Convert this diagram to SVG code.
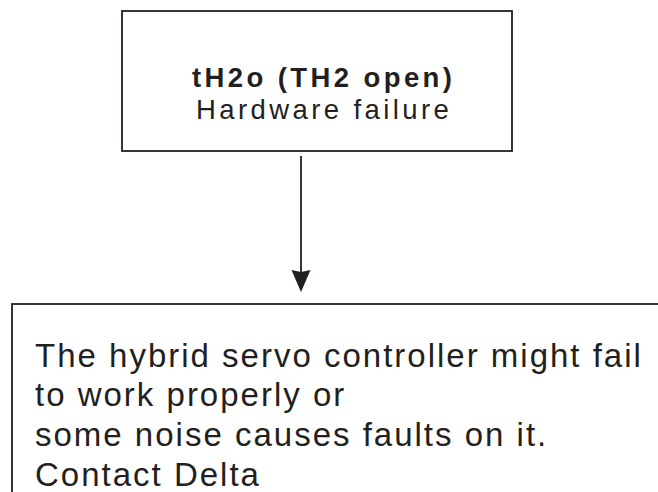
<svg xmlns="http://www.w3.org/2000/svg" width="658" height="492" viewBox="0 0 658 492">
  <style>
    .box { fill: #ffffff; stroke: #231f20; stroke-width: 1.8; }
    .t { font-family: "Liberation Sans", Arial, sans-serif; fill: #231f20; }
    .head { font-size: 27.5px; font-weight: bold; letter-spacing: 3.4px; }
    .sub { font-size: 27.5px; letter-spacing: 3.4px; }
    .body { font-size: 33px; letter-spacing: 2px; }
    .conn { stroke: #231f20; stroke-width: 1.8; fill: none; }
  </style>
  <defs>
    <marker id="arrow" markerUnits="userSpaceOnUse" markerWidth="22" markerHeight="24" refX="20" refY="9.5" orient="auto">
      <path d="M0,0 L22,9.5 L0,19 L2,9.5 Z" fill="#231f20"/>
    </marker>
  </defs>
  <rect width="658" height="492" fill="#ffffff"/>
  <g id="node-fault">
    <rect class="box" x="122" y="11" width="390" height="140"/>
    <text class="t head" x="192" y="87">tH2o (TH2 open)</text>
    <text class="t sub" x="196" y="119">Hardware failure</text>
  </g>
  <g id="node-action">
    <rect class="box" x="12" y="304" width="660" height="220"/>
    <text class="t body" x="35" y="367">The hybrid servo controller might fail</text>
    <text class="t body" x="35" y="406">to work properly or</text>
    <text class="t body" x="35" y="446">some noise causes faults on it.</text>
    <text class="t body" x="35" y="486">Contact Delta</text>
  </g>
  <g id="connectors">
    <line class="conn" x1="301" y1="156" x2="301" y2="290" marker-end="url(#arrow)"/>
  </g>
</svg>
